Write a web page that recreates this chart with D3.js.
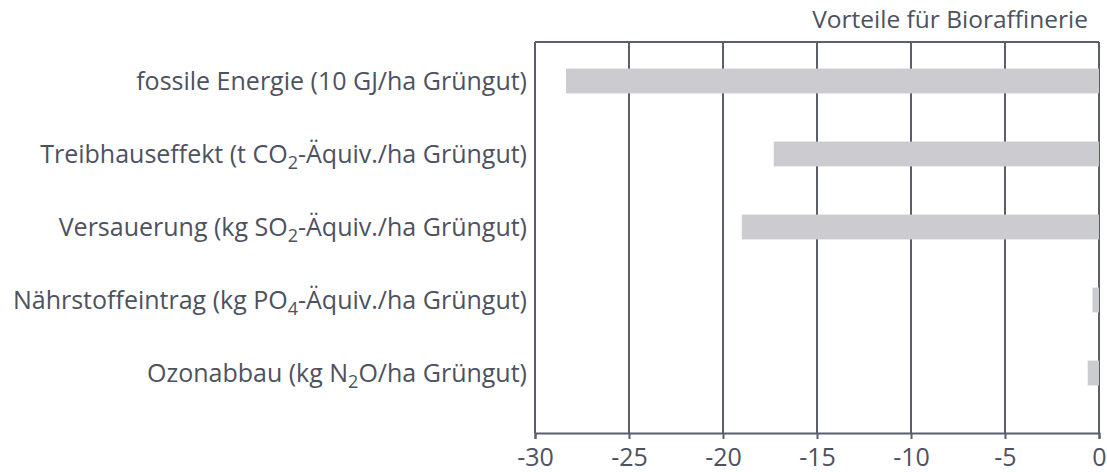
<!DOCTYPE html>
<html>
<head>
<meta charset="utf-8">
<script src="https://cdn.jsdelivr.net/npm/d3@7"></script>
<style>
  body { margin: 0; background: #fff; }
  text { font-family: "Open Sans", sans-serif; fill: #4d5260; }
</style>
</head>
<body>
<div id="chart"></div>
<script>
// categories, split into pieces so the chemical subscripts can be drawn
var categories = [
  [["fossile Energie (10 GJ/ha Grüngut)", false]],
  [["Treibhauseffekt (t CO", false], ["2", true], ["-Äquiv./ha Grüngut)", false]],
  [["Versauerung (kg SO", false], ["2", true], ["-Äquiv./ha Grüngut)", false]],
  [["Nährstoffeintrag (kg PO", false], ["4", true], ["-Äquiv./ha Grüngut)", false]],
  [["Ozonabbau (kg N", false], ["2", true], ["O/ha Grüngut)", false]]
];
var values = [-28.35, -17.3, -19.0, -0.35, -0.6];
var xTicks = [-30, -25, -20, -15, -10, -5, 0];
var xDomain = [-30, 0];
var topLabel = "Vorteile für Bioraffinerie";

var W = 1107, H = 472;
var margin = { top: 42, right: 8, bottom: 39, left: 535 },
  width = W - margin.left - margin.right,
  height = H - margin.top - margin.bottom;

var svg = d3
  .select("#chart")
  .append("svg")
  .attr("width", W)
  .attr("height", H);

var g = svg.append("g")
  .attr("transform", "translate(" + margin.left + "," + margin.top + ")");

var x = d3.scaleLinear().domain(xDomain).range([0, width]);
var y = d3.scaleBand()
  .domain(d3.range(categories.length))
  .range([2.5, 367.5])
  .paddingInner(0.66)
  .paddingOuter(0.33);

var lineColor = "#5b5f6c";

// grid lines (full height)
g.append("g")
  .selectAll("line")
  .data(xTicks)
  .enter()
  .append("line")
  .attr("x1", function (d) { return x(d); })
  .attr("x2", function (d) { return x(d); })
  .attr("y1", 0)
  .attr("y2", height)
  .style("stroke", lineColor)
  .style("stroke-width", 2);

// top border
g.append("line")
  .attr("x1", 0).attr("x2", width)
  .attr("y1", 0).attr("y2", 0)
  .style("stroke", lineColor)
  .style("stroke-width", 2);

// bottom axis
var xAxis = g.append("g")
  .attr("transform", "translate(0," + height + ")")
  .call(d3.axisBottom(x).tickValues(xTicks).tickSize(6).tickPadding(9).tickFormat(d3.format("d")));
xAxis.select(".domain").style("stroke", lineColor).style("stroke-width", 2);
xAxis.selectAll(".tick line").style("stroke", lineColor).style("stroke-width", 2);
xAxis.selectAll(".tick text")
  .style("font-family", "'Open Sans', sans-serif")
  .style("font-size", "25px")
  .style("fill", "#4d5260")
  .text(function (d) { return String(d); });

// bars
g.selectAll(".bar")
  .data(values)
  .enter()
  .append("rect")
  .attr("class", "bar")
  .attr("x", function (d) { return x(Math.min(0, d)); })
  .attr("y", function (d, i) { return y(i); })
  .attr("width", function (d) { return Math.abs(x(d) - x(0)); })
  .attr("height", y.bandwidth())
  .style("fill", "#cbcbd0");

// category labels
var labels = g.selectAll(".cat")
  .data(categories)
  .enter()
  .append("text")
  .attr("class", "cat")
  .attr("x", -8)
  .attr("y", function (d, i) { return y(i) + y.bandwidth() / 2; })
  .attr("dy", "0.36em")
  .attr("text-anchor", "end")
  .style("font-size", "25px");

labels.each(function (parts) {
  var t = d3.select(this);
  parts.forEach(function (p) {
    var ts = t.append("tspan").text(p[0]);
    if (p[1]) {
      ts.style("font-size", "18px").attr("dy", "0.32em");
    } else if (t.selectAll("tspan").size() > 1) {
      ts.attr("dy", "-0.23em");
    }
  });
});

// top right label
svg.append("text")
  .attr("x", 1088)
  .attr("y", 28)
  .attr("text-anchor", "end")
  .style("font-size", "24.5px")
  .text(topLabel);
</script>
</body>
</html>
